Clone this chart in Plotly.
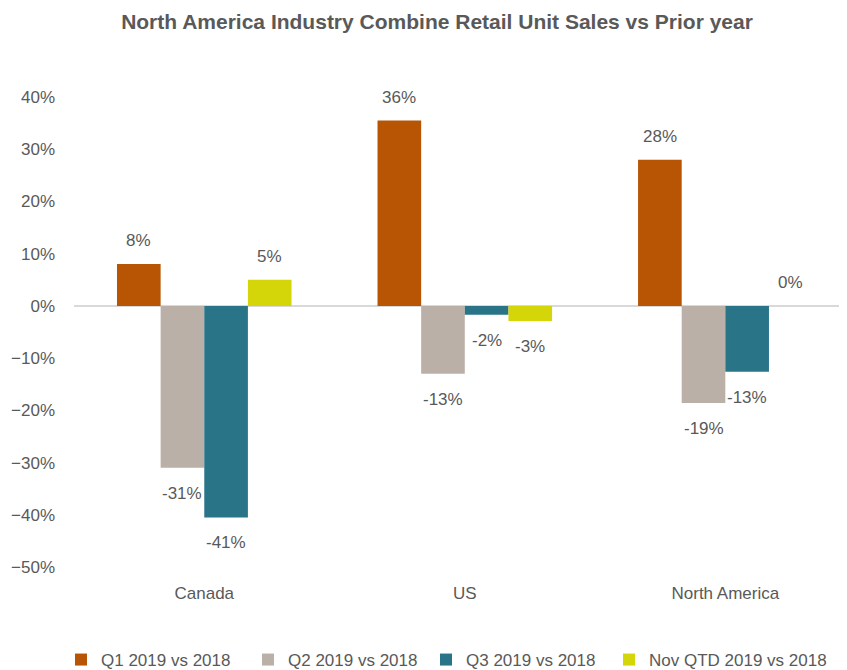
import plotly.graph_objects as go

categories = ["Canada", "US", "North America"]
series_names = ["Q1 2019 vs 2018", "Q2 2019 vs 2018", "Q3 2019 vs 2018", "Nov QTD 2019 vs 2018"]
q1 = [0.08, 0.355, 0.28]
q2 = [-0.31, -0.13, -0.186]
q3 = [-0.405, -0.017, -0.126]
nov = [0.05, -0.029, 0.0]
labels = [["8%", "36%", "28%"], ["-31%", "-13%", "-19%"], ["-41%", "-2%", "-13%"], ["5%", "-3%", "0%"]]
colors = ["#B75504", "#BAB0A8", "#2A7488", "#D4D60A"]
ytick_vals = [0.4, 0.3, 0.2, 0.1, 0.0, -0.1, -0.2, -0.3, -0.4, -0.5]

FONT = "Liberation Sans Narrow, Arial Narrow, Liberation Sans, Arial, sans-serif"
GREY = "#595959"

# the page body adds an 8px margin, so the figure is laid out 8px smaller
W, H = 839, 662
legend_x = [53, 240, 418, 601]

all_series = [q1, q2, q3, nov]
xs = list(range(len(categories)))
bargap = 0.33
w = (1 - bargap) / len(all_series)
legend_ids = ["legend", "legend2", "legend3", "legend4"]

fig = go.Figure()
for j, (name, vals, col) in enumerate(zip(series_names, all_series, colors)):
    fig.add_trace(go.Bar(x=xs, y=vals, name=name, legend=legend_ids[j],
                         marker=dict(color=col, line=dict(width=0))))
    for i, v in enumerate(vals):
        xpos = i + (j - (len(all_series) - 1) / 2) * w
        if v >= 0:
            fig.add_annotation(x=xpos, y=v, text=labels[j][i], showarrow=False,
                               yanchor="bottom", yshift=12,
                               font=dict(size=17, color=GREY, family=FONT))
        else:
            fig.add_annotation(x=xpos, y=v, text=labels[j][i], showarrow=False,
                               yanchor="top", yshift=-14,
                               font=dict(size=17, color=GREY, family=FONT))

legend_common = dict(orientation="h", xanchor="left", xref="container",
                     y=10 / H, yref="container", yanchor="middle",
                     font=dict(size=17, color=GREY, family=FONT), itemwidth=30,
                     bgcolor="rgba(0,0,0,0)")

fig.update_layout(
    width=W, height=H,
    paper_bgcolor="white", plot_bgcolor="white",
    barmode="group", bargap=bargap, bargroupgap=0,
    margin=dict(l=66, r=0, t=89, b=103, autoexpand=False),
    title=dict(text="<b>North America Industry Combine Retail Unit Sales vs Prior year</b>",
               x=429 / W, xanchor="center", xref="container", y=1 - 14 / H, yref="container",
               yanchor="middle",
               font=dict(size=21, color=GREY, family=FONT)),
    font=dict(family=FONT, color=GREY, size=17),
    legend=dict(x=legend_x[0] / W, **legend_common),
    legend2=dict(x=legend_x[1] / W, **legend_common),
    legend3=dict(x=legend_x[2] / W, **legend_common),
    legend4=dict(x=legend_x[3] / W, **legend_common),
    showlegend=True,
)
fig.update_xaxes(tickmode="array", tickvals=xs, ticktext=categories, range=[-0.5, 2.467],
                 showgrid=False, zeroline=False, showline=False, ticks="",
                 tickfont=dict(size=17, color=GREY, family=FONT), automargin=False,
                 ticklabelstandoff=14)
fig.update_yaxes(range=[-0.5, 0.4], tickvals=ytick_vals, tickformat=".0%",
                 showgrid=False, zeroline=True, zerolinecolor="#D9D9D9", zerolinewidth=2,
                 showline=False, ticks="", ticklabelstandoff=18, automargin=False,
                 tickfont=dict(size=17, color=GREY, family=FONT))
fig.write_html("out.html")
